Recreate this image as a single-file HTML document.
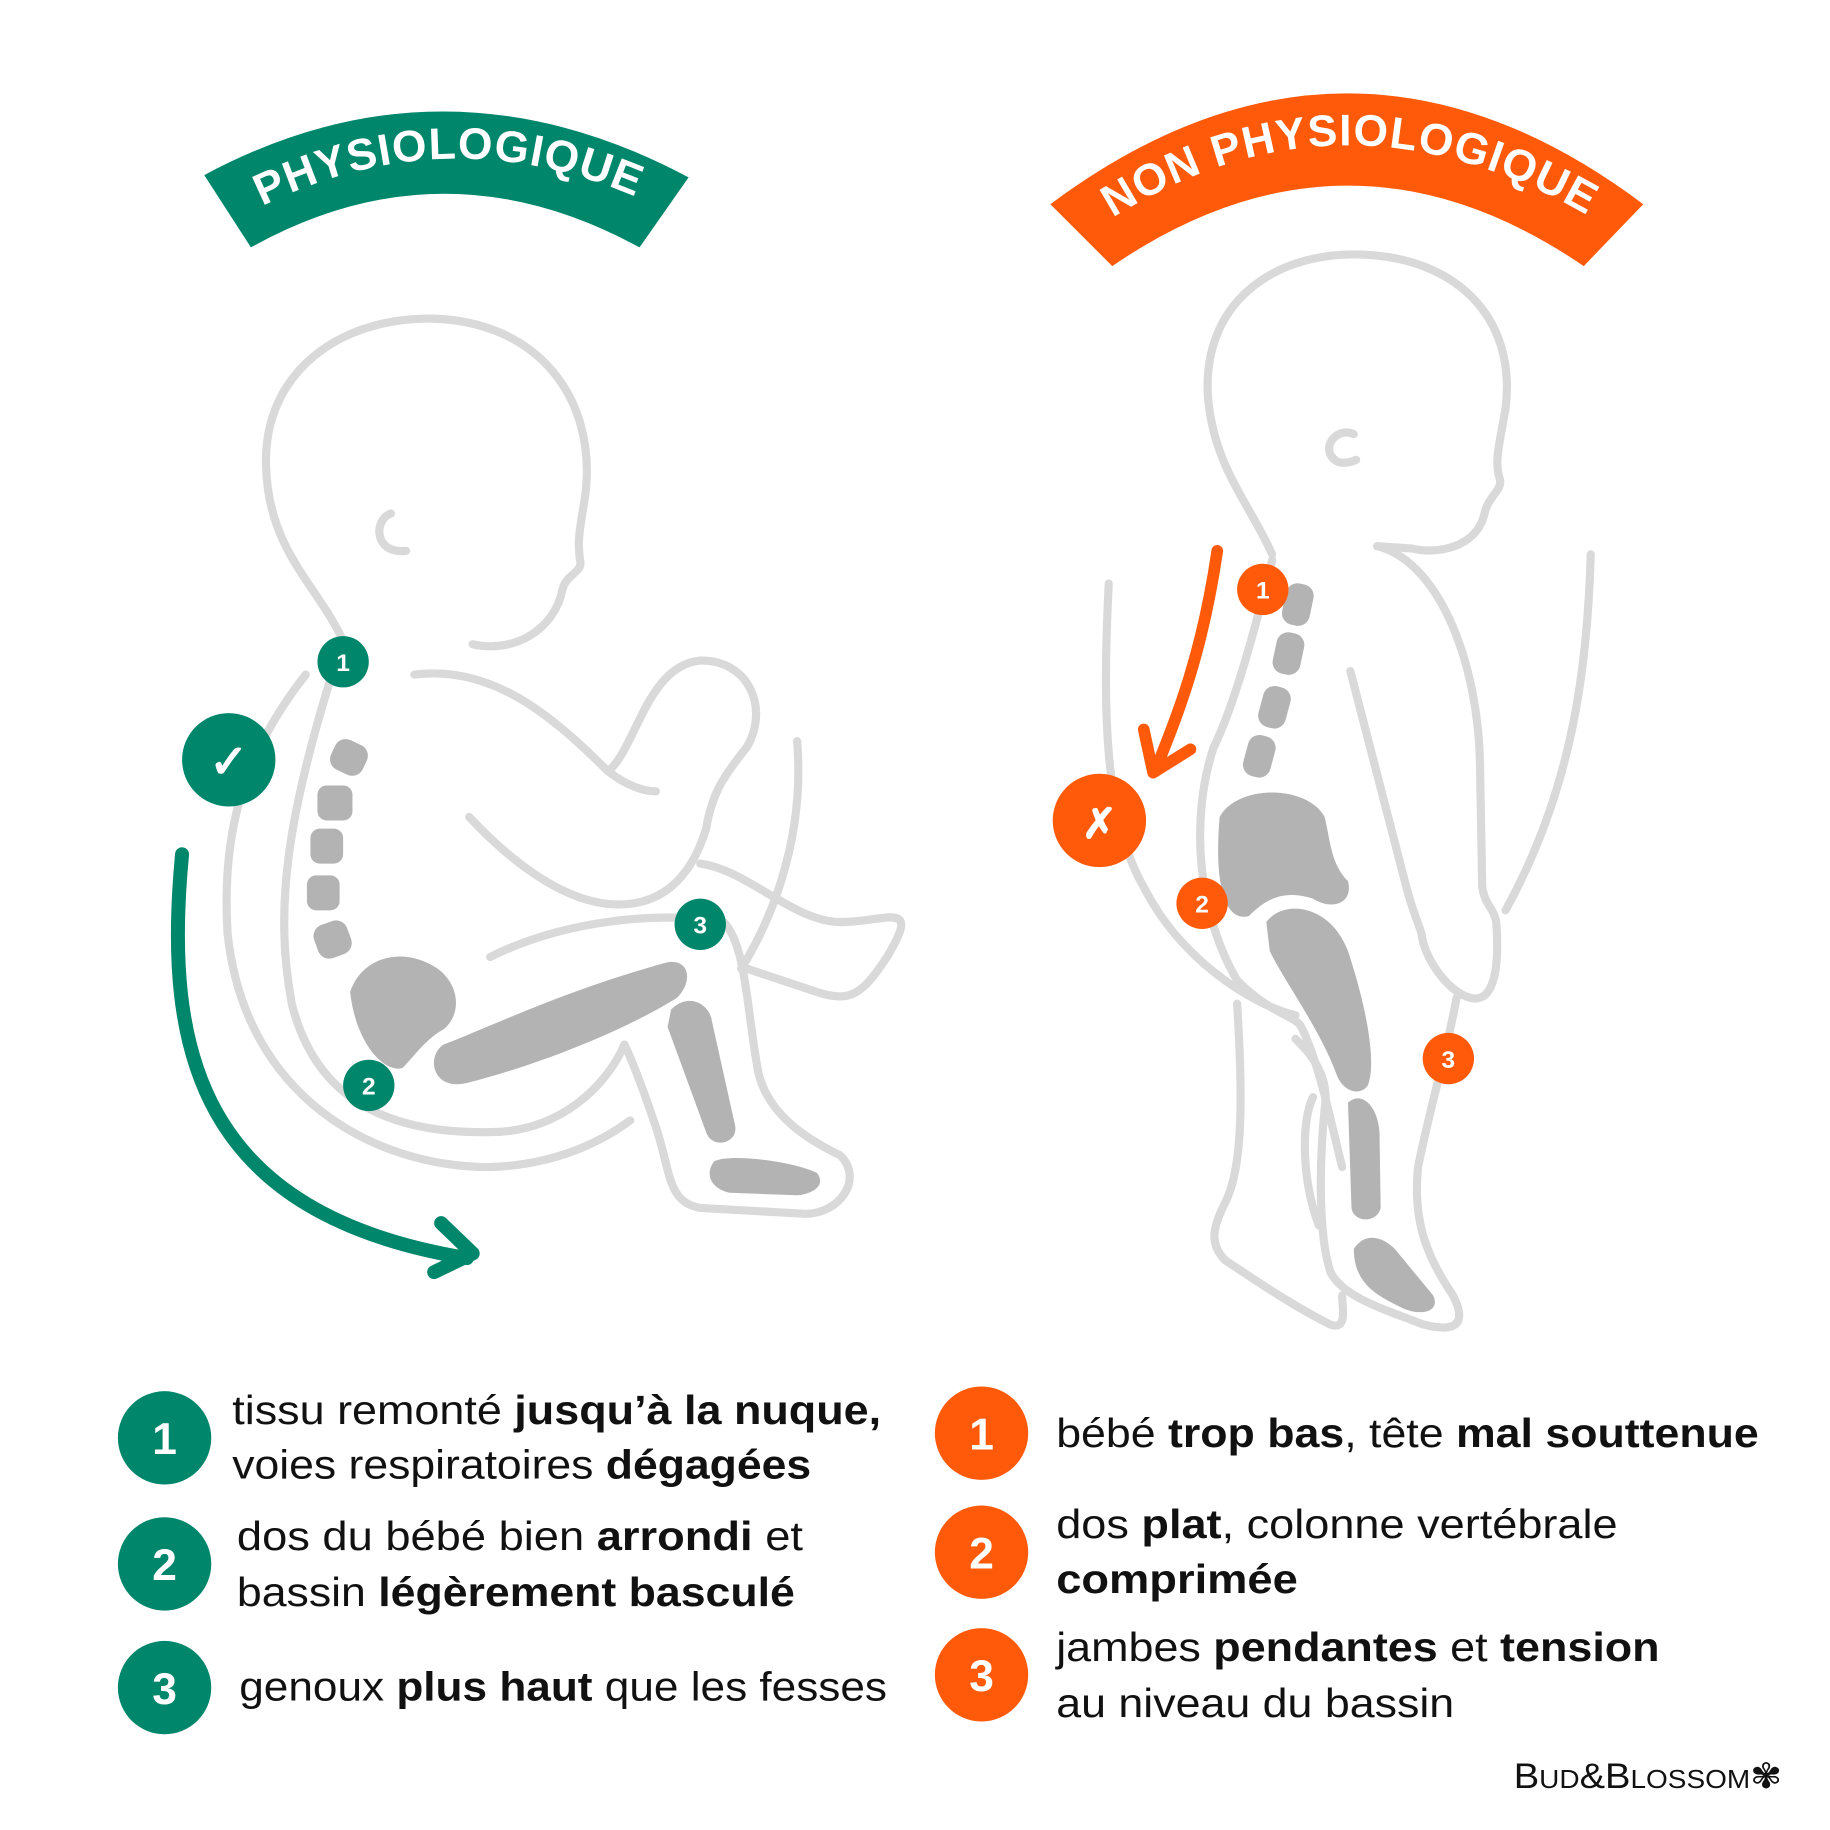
<!DOCTYPE html>
<html><head><meta charset="utf-8"><style>
html,body{margin:0;padding:0;background:#fff}
svg{display:block}
text{font-family:"Liberation Sans",sans-serif}
</style></head><body>
<svg width="1830" height="1830" viewBox="0 0 1568 1568" xmlns="http://www.w3.org/2000/svg">
<defs>
<path id="lt" d="M222,178 Q382,98 548,170"/>
<path id="rt" d="M948,190 Q1150,60 1366,188"/>
</defs>
<path d="M175,150 Q380,40 590,152 L548,212 Q380,120 215,212 Z" fill="#00866b"/>
<text font-size="38" font-weight="bold" fill="#fff" letter-spacing="1"><textPath href="#lt" startOffset="50%" text-anchor="middle">PHYSIOLOGIQUE</textPath></text>
<path d="M900,175 Q1155,-15 1408,175 L1357,228 Q1155,90 953,228 Z" fill="#ff5a0a"/>
<text font-size="38" font-weight="bold" fill="#fff" letter-spacing="1"><textPath href="#rt" startOffset="50%" text-anchor="middle">NON PHYSIOLOGIQUE</textPath></text>

<g fill="none" stroke="#d9d9d9" stroke-width="7" stroke-linecap="round" stroke-linejoin="round">
<path d="M292,545 C270,500 230,470 228,400 C225,320 290,272 370,273 C460,275 510,340 502,420 C498,450 494,460 497,480 C500,490 485,492 482,505 C475,540 440,560 405,552"/>
<path d="M335,440 C320,445 320,475 348,472"/>
<path d="M355,578 C420,570 470,610 520,660 C535,672 550,678 562,678"/>
<path d="M522,660 C545,640 555,570 600,566 C640,565 660,605 640,640 C620,665 610,680 605,710 C590,760 560,775 530,775 C480,775 430,730 402,700"/>
<path d="M600,740 C640,745 680,790 720,790 C760,790 790,770 760,820 C740,850 730,860 700,850 L640,830"/>
<path d="M683,635 C690,720 660,790 635,830"/>
<path d="M420,820 C480,790 560,780 620,790 C640,810 640,870 650,920 C660,960 700,980 720,990 C740,1010 720,1040 690,1040 L600,1035 C570,1030 575,1000 560,960 C550,930 540,905 535,895 C520,930 480,970 420,970 C330,972 270,940 250,860 C235,780 245,700 290,560"/>
<path d="M262,578 C205,650 190,720 195,800 C210,940 320,1000 420,1000 C480,998 520,975 540,960"/>
<path d="M1090,475 C1070,430 1040,400 1035,340 C1030,260 1090,218 1160,218 C1245,218 1300,270 1290,350 C1285,380 1280,395 1285,410 C1288,420 1275,425 1272,440 C1265,470 1230,475 1210,470 L1180,468"/>
<path d="M1160,372 C1145,365 1130,385 1145,395 C1150,398 1158,396 1162,394"/>
<path d="M1180,468 C1230,480 1265,560 1268,650 L1270,760 C1272,775 1280,778 1282,790 C1285,830 1280,860 1260,855 C1240,850 1220,820 1218,800 C1215,790 1210,780 1205,760 L1157,575"/>
<path d="M1248,855 C1240,900 1225,950 1215,1000 C1210,1050 1225,1080 1245,1110 C1260,1140 1240,1140 1220,1135 C1180,1120 1150,1110 1140,1090 C1130,1060 1130,1000 1135,950 C1140,920 1120,900 1110,890"/>
<path d="M1090,480 C1080,520 1060,600 1040,640 C1020,700 1025,780 1060,840 C1090,870 1110,870 1115,880 C1130,910 1140,960 1150,1000"/>
<path d="M1060,860 C1065,940 1065,1000 1050,1030 C1040,1050 1035,1065 1050,1080 C1080,1100 1110,1120 1140,1135 C1155,1140 1150,1120 1150,1110"/>
<path d="M950,500 C945,600 945,700 980,760 C1010,820 1070,860 1110,870"/>
<path d="M1363,475 C1360,580 1345,680 1290,780"/>
<path d="M1125,940 C1115,960 1115,1010 1130,1050"/>
</g>
<g fill="#b3b3b3">
<rect x="284" y="635" width="30" height="28" rx="10" transform="rotate(25 299 649)"/>
<rect x="272" y="673" width="30" height="30" rx="8"/>
<rect x="266" y="710" width="28" height="30" rx="8"/>
<rect x="263" y="750" width="28" height="30" rx="8"/>
<rect x="270" y="790" width="30" height="30" rx="10" transform="rotate(-20 285 805)"/>
<path d="M300,850 C310,820 345,810 375,830 C395,845 395,870 380,882 C365,890 355,905 345,915 C330,920 305,895 300,850 Z"/>
<path d="M380,895 C420,880 480,850 570,825 C590,820 595,840 580,855 C540,880 470,910 400,928 C370,935 365,905 380,895 Z"/>
<path d="M575,865 C590,850 608,860 610,875 L630,965 C632,980 610,985 605,970 L572,880 Z"/>
<path d="M612,995 C625,988 680,995 700,1005 C710,1018 690,1025 680,1024 L625,1022 C608,1018 604,1005 612,995 Z"/>
<rect x="1100" y="500" width="24" height="36" rx="10" transform="rotate(12 1112 518)"/>
<rect x="1092" y="542" width="24" height="36" rx="10" transform="rotate(12 1104 560)"/>
<rect x="1080" y="588" width="24" height="36" rx="10" transform="rotate(15 1092 606)"/>
<rect x="1067" y="630" width="24" height="36" rx="10" transform="rotate(15 1079 648)"/>
<path d="M1045,700 C1060,672 1120,672 1135,700 C1140,720 1140,740 1155,755 C1160,775 1140,780 1125,770 C1100,762 1085,770 1070,785 C1050,790 1040,760 1045,700 Z"/>
<path d="M1085,790 C1100,770 1140,775 1155,815 C1170,860 1180,910 1172,930 C1165,940 1150,935 1145,920 C1130,880 1100,840 1088,815 Z"/>
<path d="M1155,945 C1165,935 1180,945 1182,970 L1183,1035 C1180,1048 1160,1048 1158,1035 Z"/>
<path d="M1160,1070 C1170,1055 1185,1060 1195,1070 L1228,1110 C1235,1125 1215,1128 1200,1120 C1180,1110 1160,1100 1160,1070 Z"/>
</g>
<path d="M156,732 C140,900 170,1040 400,1078" fill="none" stroke="#00866b" stroke-width="12" stroke-linecap="round"/>
<path d="M378,1048 L405,1074 L372,1090" fill="none" stroke="#00866b" stroke-width="12" stroke-linecap="round" stroke-linejoin="round"/>
<path d="M1043,472 C1030,560 1010,610 990,660" fill="none" stroke="#ff5a0a" stroke-width="10" stroke-linecap="round"/>
<path d="M980,625 L988,662 L1020,642" fill="none" stroke="#ff5a0a" stroke-width="10" stroke-linecap="round" stroke-linejoin="round"/>
<g font-weight="bold" text-anchor="middle" fill="#fff">
<circle cx="196" cy="651" r="40" fill="#00866b"/><text x="196" y="666" font-size="40">✓</text>
<circle cx="294" cy="567" r="22" fill="#00866b"/><text x="294" y="575" font-size="21">1</text>
<circle cx="316" cy="930" r="22" fill="#00866b"/><text x="316" y="938" font-size="21">2</text>
<circle cx="600" cy="792" r="22" fill="#00866b"/><text x="600" y="800" font-size="21">3</text>
<circle cx="942" cy="703" r="40" fill="#ff5a0a"/><text x="942" y="718" font-size="36">✗</text>
<circle cx="1082" cy="505" r="22" fill="#ff5a0a"/><text x="1082" y="513" font-size="21">1</text>
<circle cx="1030" cy="774" r="22" fill="#ff5a0a"/><text x="1030" y="782" font-size="21">2</text>
<circle cx="1241" cy="907" r="22" fill="#ff5a0a"/><text x="1241" y="915" font-size="21">3</text>
<circle cx="141" cy="1232" r="40" fill="#00866b"/><text x="141" y="1246" font-size="38">1</text>
<circle cx="141" cy="1340" r="40" fill="#00866b"/><text x="141" y="1354" font-size="38">2</text>
<circle cx="141" cy="1446" r="40" fill="#00866b"/><text x="141" y="1460" font-size="38">3</text>
<circle cx="841" cy="1228" r="40" fill="#ff5a0a"/><text x="841" y="1242" font-size="38">1</text>
<circle cx="841" cy="1330" r="40" fill="#ff5a0a"/><text x="841" y="1344" font-size="38">2</text>
<circle cx="841" cy="1435" r="40" fill="#ff5a0a"/><text x="841" y="1449" font-size="38">3</text>
</g>
<g font-size="35" fill="#111">
<text x="199" y="1220" textLength="556" lengthAdjust="spacingAndGlyphs">tissu remonté <tspan font-weight="bold">jusqu’à la nuque,</tspan></text>
<text x="199" y="1267" textLength="496" lengthAdjust="spacingAndGlyphs">voies respiratoires <tspan font-weight="bold">dégagées</tspan></text>
<text x="203" y="1328" textLength="485" lengthAdjust="spacingAndGlyphs">dos du bébé bien <tspan font-weight="bold">arrondi</tspan> et</text>
<text x="203" y="1376" textLength="478" lengthAdjust="spacingAndGlyphs">bassin <tspan font-weight="bold">légèrement basculé</tspan></text>
<text x="205" y="1457" textLength="555" lengthAdjust="spacingAndGlyphs">genoux <tspan font-weight="bold">plus haut</tspan> que les fesses</text>
<text x="905" y="1240" textLength="602" lengthAdjust="spacingAndGlyphs">bébé <tspan font-weight="bold">trop bas</tspan>, tête <tspan font-weight="bold">mal souttenue</tspan></text>
<text x="905" y="1318" textLength="481" lengthAdjust="spacingAndGlyphs">dos <tspan font-weight="bold">plat</tspan>, colonne vertébrale</text>
<text x="905" y="1365" font-weight="bold" textLength="207" lengthAdjust="spacingAndGlyphs">comprimée</text>
<text x="905" y="1423" textLength="517" lengthAdjust="spacingAndGlyphs">jambes <tspan font-weight="bold">pendantes</tspan> et <tspan font-weight="bold">tension</tspan></text>
<text x="905" y="1471" textLength="341" lengthAdjust="spacingAndGlyphs">au niveau du bassin</text>
</g>
<text x="1297" y="1532" font-family="Liberation Serif,serif" font-size="30" fill="#111" textLength="230" lengthAdjust="spacingAndGlyphs">B<tspan font-size="22">UD</tspan>&amp;B<tspan font-size="22">LOSSOM</tspan>✾</text>
</svg>
</body></html>
